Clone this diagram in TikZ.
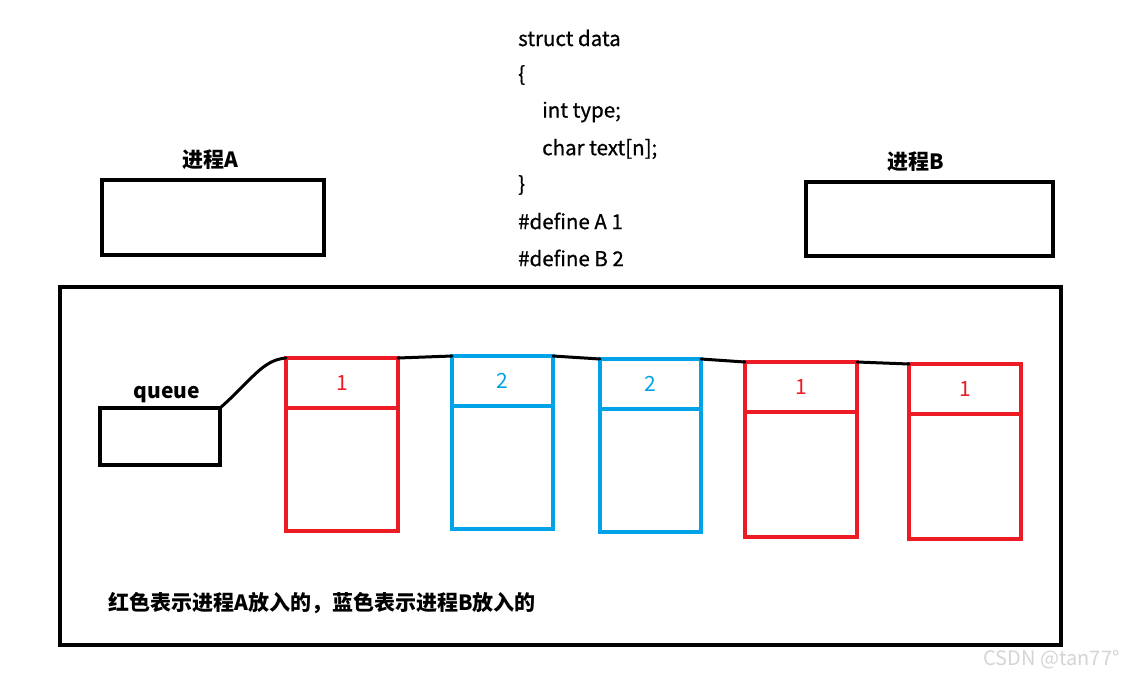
\documentclass[tikz,border=0pt]{standalone}
\usepackage{fontspec}
\usepackage{xcolor}
\usepackage{tikz}
\usetikzlibrary{positioning}
\newfontfamily\cjk{Noto Sans CJK SC}
\newfontfamily\cjkcode[FakeBold=0.8]{Noto Sans CJK SC}
\definecolor{qdRed}{HTML}{ED1C24}
\definecolor{qdBlue}{HTML}{00A2E8}
\definecolor{qdMark}{HTML}{D4D4D4}
\tikzset{
  qd diagram/.style={font=\cjkcode\fontsize{20.5}{24}\selectfont, x=1pt, y=-1pt},
  qd box/.style={draw=black, line width=4pt, inner sep=0pt, outer sep=0pt},
  qd title/.style={font=\cjk\bfseries\fontsize{21}{25}\selectfont, inner sep=2pt},
  qd code/.style={anchor=west, inner sep=0pt},
  qd head/.style={draw=#1, text=#1, line width=4pt, inner sep=0pt, outer sep=0pt,
    anchor=north west, minimum height=50pt, font=\cjk\fontsize{21}{25}\selectfont},
  qd body/.style={draw=#1, line width=4pt, inner sep=0pt, outer sep=0pt, anchor=north},
  qd link/.style={draw=black, line width=3pt, line cap=round}
}
\begin{document}
\begin{tikzpicture}[qd diagram]
\useasboundingbox (0,0) rectangle (1126,678);
\node[qd box, minimum width=222pt, minimum height=75pt] (pa) at (213,217.5) {};
\node[qd title, above=8pt of pa, xshift=-3pt] {进程A};
\node[qd box, minimum width=247pt, minimum height=74pt] (pb) at (929.5,219) {};
\node[qd title, above=8pt of pb, xshift=-14pt] {进程B};
\node[qd code] (c1) at (518,38) {struct data};
\node[qd code] (c2) at (518,75) {\{};
\node[qd code] (c3) at (542,112) {int type;};
\node[qd code] (c4) at (542,149) {char text[n];};
\node[qd code] (c5) at (518,185) {\}};
\node[qd code] (c6) at (518,221) {\#define A 1};
\node[qd code] (c7) at (518,258) {\#define B 2};
\node[qd box, minimum width=1001pt, minimum height=358pt] (shm) at (560.5,466) {};
\node[qd box, minimum width=120pt, minimum height=57pt] (q) at (160,436.5) {};
\node[qd title, above=3pt of q, xshift=7pt] {queue};
\foreach \n/\x/\y/\w/\h/\c/\v in {1/286/358/112/123/qdRed/1,2/452/356/101/123/qdBlue/2,
    3/600/359/101/123/qdBlue/2,4/745/362/112/125/qdRed/1,5/909/364/112/125/qdRed/1} {
  \node[qd head=\c, minimum width=\w pt] (m\n h) at (\x,\y) {\v};
  \node[qd body=\c, minimum width=\w pt, minimum height=\h pt] (m\n b) at (m\n h.south) {};
}
\draw[qd link] (q.north east) .. controls (252,380) and (262,360) .. (m1h.north west);
\draw[qd link] (m1h.north east) -- (m2h.north west);
\draw[qd link] (m2h.north east) -- (m3h.north west);
\draw[qd link] (m3h.north east) -- (m4h.north west);
\draw[qd link] (m4h.north east) -- (m5h.north west);
\node[qd title, anchor=west] (note) at (106,603) {红色表示进程A放入的，蓝色表示进程B放入的};
\node[anchor=east, text=qdMark, font=\cjk\fontsize{20}{24}\selectfont] (mark) at (1123,660) {CSDN @tan77°};
\end{tikzpicture}
\end{document}
